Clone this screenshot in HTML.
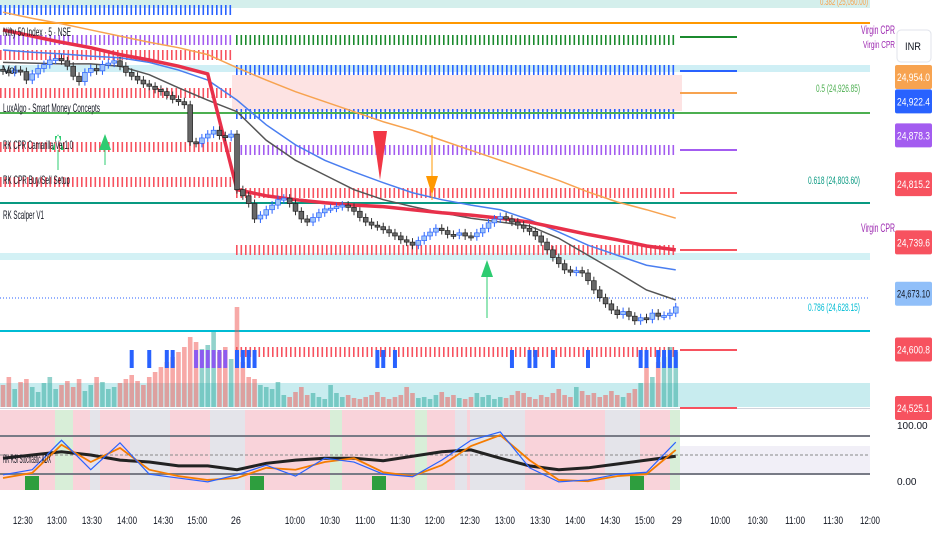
<!DOCTYPE html>
<html><head><meta charset="utf-8"><style>
body{margin:0;background:#fff;overflow:hidden}
svg{display:block;font-family:"Liberation Sans",sans-serif}
</style></head><body>
<svg id="c" width="932" height="550" viewBox="0 0 932 550">
<g id="bg">
<rect x="0" y="0" width="870" height="8" fill="#d4efec"/>
<rect x="0" y="65" width="870" height="7" fill="#cfeff5"/>
<rect x="232" y="75" width="450" height="36" fill="#fde3e3"/>
<rect x="0" y="253" width="870" height="7" fill="#d3f1f5"/>
<rect x="0" y="383" width="870" height="24" fill="#c8ecef"/>
<rect x="0" y="408" width="870" height="1" fill="#d1d4dc"/>
</g>
<g id="levels"></g>
<g id="vol"></g>
<g id="ma"></g>
<g id="cnd"></g>
<g id="osc"></g>
<g id="sig">
<path d="M52 150 L58 134 L64 150Z M55 150h6v-14h-6z" fill="#2ecc71"/><line x1="58" y1="150" x2="58" y2="170" stroke="#2ecc71"/>
<path d="M99 150 L105 134 L111 150Z" fill="#2ecc71"/><line x1="105" y1="150" x2="105" y2="165" stroke="#2ecc71"/>
<path d="M373 131 L387 131 L380 180Z" fill="#f23645"/>
<line x1="432" y1="135" x2="432" y2="200" stroke="#ff9800"/><path d="M426 176 L438 176 L432 195Z" fill="#ff9800"/>
<path d="M481 277 L487 260 L493 277Z" fill="#2ecc71"/><line x1="487" y1="277" x2="487" y2="318" stroke="#2ecc71"/>
</g>
<g id="labels" font-size="12" fill="#131722">
<text x="3" y="36" textLength="68" lengthAdjust="spacingAndGlyphs">Nifty 50 Index · 5 · NSE</text>
<text x="3" y="74" textLength="14" lengthAdjust="spacingAndGlyphs">Vol</text>
<text x="3" y="112" textLength="97" lengthAdjust="spacingAndGlyphs">LuxAlgo - Smart Money Concepts</text>
<text x="3" y="149" textLength="70" lengthAdjust="spacingAndGlyphs">RK CPR Camarilla Ver1.0</text>
<text x="3" y="184" textLength="67" lengthAdjust="spacingAndGlyphs">RK CPR Buy/Sell Setup</text>
<text x="3" y="219" textLength="41" lengthAdjust="spacingAndGlyphs">RK Scalper V1</text>
<text x="3" y="463" textLength="48" lengthAdjust="spacingAndGlyphs">RK RSI Stochastic ADX</text>
<text x="868" y="5" text-anchor="end" fill="#f7a350" font-size="10" textLength="48" lengthAdjust="spacingAndGlyphs">0.382 (25,050.00)</text>
<text x="895" y="34" text-anchor="end" fill="#9c27b0" font-size="12" textLength="34" lengthAdjust="spacingAndGlyphs">Virgin CPR</text>
<text x="895" y="48" text-anchor="end" fill="#9c27b0" font-size="10" textLength="32" lengthAdjust="spacingAndGlyphs">Virgin CPR</text>
<text x="860" y="92" text-anchor="end" fill="#4caf50" font-size="11" textLength="44" lengthAdjust="spacingAndGlyphs">0.5 (24,926.85)</text>
<text x="860" y="184" text-anchor="end" fill="#089981" font-size="11" textLength="52" lengthAdjust="spacingAndGlyphs">0.618 (24,803.60)</text>
<text x="895" y="232" text-anchor="end" fill="#9c27b0" font-size="12" textLength="34" lengthAdjust="spacingAndGlyphs">Virgin CPR</text>
<text x="860" y="311" text-anchor="end" fill="#00bcd4" font-size="11" textLength="52" lengthAdjust="spacingAndGlyphs">0.786 (24,628.15)</text>
</g>
<g id="axis" font-size="11"></g>
<g id="taxis" font-size="11" fill="#131722"></g>
<rect x="897" y="30" width="34" height="32" rx="4" fill="#fff" stroke="#e0e3eb"/>
<text x="905" y="50" font-size="11" fill="#131722" textLength="16" lengthAdjust="spacingAndGlyphs">INR</text>
</svg>
<script>
const NS="http://www.w3.org/2000/svg";
const closes=[24962,24960,24963,24961,24950,24958,24965,24970,24976,24978,24975,24968,24955,24948,24960,24965,24962,24970,24972,24975,24968,24960,24955,24950,24945,24942,24938,24935,24930,24925,24922,24918,24870,24868,24875,24880,24885,24878,24876,24880,
24808,24800,24790,24770,24775,24782,24788,24795,24797,24790,24780,24770,24766,24772,24778,24783,24784,24786,24788,24785,24780,24772,24766,24762,24760,24756,24752,24748,24743,24740,24736,24742,24748,24753,24758,24755,24750,24749,24752,24748,24747,24752,24758,24765,24770,24773,24770,24766,24762,24758,24754,24748,24740,24730,24720,24712,24704,24701,24703,24700,24690,24678,24668,24660,24652,24646,24650,24644,24638,24642,24640,24648,24644,24645,24648,24656];
const maRed=[25015,25007,24999,24992,24983,24976,24968,24958,24808,24800,24795,24791,24788,24786,24782,24778,24775,24771,24766,24758,24750,24743,24735,24730];
const maGray=[24973,24972,24971,24971,24968,24957,24940,24924,24909,24872,24846,24827,24808,24795,24786,24778,24771,24766,24761,24745,24723,24701,24678,24665];
const maBlue=[24989,24986,24984,24981,24979,24973,24963,24950,24924,24892,24866,24846,24831,24817,24804,24795,24788,24782,24769,24753,24736,24723,24710,24704];
const maOrange=[25038,25030,25023,25015,25007,24999,24992,24983,24966,24950,24935,24922,24909,24896,24885,24872,24859,24846,24833,24820,24805,24792,24782,24771];
const volumes=[22,30,18,25,28,20,15,24,30,18,22,26,20,28,16,22,30,25,18,20,24,28,32,26,22,30,35,40,45,50,55,60,70,65,58,62,75,55,60,48,
100,45,30,28,22,20,18,25,12,10,15,20,12,14,10,8,22,14,10,12,9,8,10,12,15,10,8,10,12,20,14,9,10,8,12,15,10,12,9,8,10,14,10,12,8,10,9,12,16,14,10,8,12,10,14,18,12,10,20,16,12,14,10,12,16,12,10,14,18,24,40,30,45,50,60,55];
const markIdx=[22,25,28,29,33,34,35,36,37,38,40,41,42,43,64,65,67,87,90,91,94,100,109,110,112,113,114,115];
const stochK=[19,27,73,27,69,20,14,8,19,34,17,45,39,20,16,42,73,86,30,8,11,20,23,70];
const stochD=[14,22,66,39,61,27,17,11,14,30,27,39,45,23,17,34,64,81,42,11,9,17,20,58];
const rsi=[45,50,55,50,42,39,33,33,27,37,42,45,45,41,48,55,58,45,33,27,30,36,42,48];
const axisPrices=[24954.0,24922.4,24878.3,24815.2,24739.6,24673.1,24600.8,24525.1];
const axisText=["24,954.0","24,922.4","24,878.3","24,815.2","24,739.6","24,673.10","24,600.8","24,525.1"];
const axisColors=["#f7a350","#2962ff","#a35cf0","#f7525f","#f7525f","#90bff9","#f7525f","#f7525f"];
const timeLabels=["12:30","13:00","13:30","14:00","14:30","15:00","26","10:00","10:30","11:00","11:30","12:00","12:30","13:00","13:30","14:00","14:30","15:00","29","10:00","10:30","11:00","11:30","12:00"];
const timeBars=[3.4,9.2,15.2,21.2,27.4,33.2,39.8,49.9,55.9,61.9,67.9,73.8,79.8,85.8,91.8,97.8,103.8,109.7,115.2,122.6,129,135.4,141.9,148.2];

const X=i=>3+5.85*i;
const Y=p=>77+(24954-p)/1.296;
const SY=v=>487-v*0.64;
function el(t,a,p){const e=document.createElementNS(NS,t);for(const k in a)e.setAttribute(k,a[k]);document.getElementById(p).appendChild(e);return e;}

function dotted(y,x1,x2,col){for(let x=x1;x<x2;x+=4.5){el('rect',{x:x,y:y-5,width:1.6,height:10,fill:col},'levels');}}
[[10,0,232,"#2962ff"],[40,0,232,"#a35cf0"],[55,0,232,"#f7525f"],[93,0,232,"#f7525f"],[147,0,232,"#f7525f"],[182,0,232,"#f7525f"],
[40,236,677,"#1b8a2e"],[114,236,677,"#2962ff"],[70,236,677,"#2962ff"],[150,236,677,"#a35cf0"],[193,236,677,"#f7525f"],[250,236,677,"#f7525f"],[352,236,677,"#f7525f"]].forEach(a=>dotted(...a));
[[37,"#1b8a2e"],[71,"#2962ff"],[93,"#f7a350"],[113,"#2962ff"],[150,"#a35cf0"],[193,"#f7525f"],[250,"#f7525f"],[350,"#f7525f"],[408,"#f7525f"]].forEach(a=>el('rect',{x:680,y:a[0]-1,width:57,height:2,fill:a[1]},'levels'));
[[23,"#ff9800",2],[113,"#4caf50",2],[203,"#089981",2],[331,"#00bcd4",2]].forEach(a=>el('rect',{x:0,y:a[0]-1,width:870,height:a[2],fill:a[1]},'levels'));
el('line',{x1:0,y1:298,x2:870,y2:298,stroke:"#2962ff","stroke-dasharray":"1 2"},'levels');

volumes.forEach((v,i)=>{const r=el('rect',{x:X(i)-2.3,y:407-v,width:4.6,height:v,fill:(i>0&&closes[i]>=closes[i-1])?"rgba(38,166,154,0.5)":"rgba(239,83,80,0.5)"},'vol');

});
markIdx.forEach(i=>{const r=el('rect',{x:X(i)-2,y:350,width:4,height:18,fill:(i>=33&&i<=38)?"#8c5cf0":"#2962ff"},'vol');

});

function line(arr,col,w,fn){const pts=arr.map((v,k)=>X(k*5)+","+fn(v)).join(" ");return el('polyline',{points:pts,fill:"none",stroke:col,"stroke-width":w},'ma');}
let m;
m=line(maOrange,"#f7a350",1.5,Y);
m=line(maBlue,"#4a7ef0",1.5,Y);
m=line(maGray,"#555",1.5,Y);
m=line(maRed,"#e8304a",3.5,Y);

closes.forEach((c,i)=>{const o=i?closes[i-1]:c+2;const up=c>=o;const x=X(i);
const yt=Y(Math.max(o,c)),yb=Y(Math.min(o,c));
el('line',{x1:x,y1:yt-4,x2:x,y2:yb+4,stroke:up?"#2962ff":"#333"},'cnd');
const r=el('rect',{x:x-2.4,y:yt,width:4.8,height:Math.max(2,yb-yt),fill:up?"#9ec3f7":"#666",stroke:up?"#2962ff":"#222","stroke-width":0.7},'cnd');

});

el('rect',{x:0,y:410,width:680,height:80,fill:"#f9d3da"},'osc');
[[55,18,"#d8eed8"],[90,10,"#e4e4ea"],[130,40,"#e4e4ea"],[210,35,"#e4e4ea"],[330,12,"#d8eed8"],[415,12,"#d8eed8"],[455,12,"#e4e4ea"],[470,55,"#e4e4ea"],[605,35,"#e4e4ea"],[670,10,"#d8eed8"]].forEach(a=>el('rect',{x:a[0],y:410,width:a[1],height:80,fill:a[2]},'osc'));
el('rect',{x:680,y:446,width:190,height:28,fill:"#f1eff7"},'osc');
el('line',{x1:0,y1:436,x2:870,y2:436,stroke:"#787b86","stroke-width":2},'osc');
el('line',{x1:0,y1:474,x2:870,y2:474,stroke:"#787b86","stroke-width":2},'osc');
el('line',{x1:0,y1:455,x2:870,y2:455,stroke:"#888","stroke-dasharray":"3 2"},'osc');
function oline(arr,col,w,name){const pts=arr.map((v,k)=>X(k*5)+","+SY(v)).join(" ");const p=el('polyline',{points:pts,fill:"none",stroke:col,"stroke-width":w},'osc');

}
oline(rsi,"#222",3,"rsi-line");
oline(stochD,"#f57c00",1.8,"stoch-d-line");
oline(stochK,"#2962ff",1.2,"stoch-k-line");
[[25,"#2e9e3e"],[250,"#2e9e3e"],[372,"#2e9e3e"],[630,"#2e9e3e"]].forEach(a=>el('rect',{x:a[0],y:476,width:14,height:14,fill:a[1]},'osc'));

axisPrices.forEach((p,i)=>{const y=Y(p);const r=el('rect',{x:895,y:y-12,width:37,height:24,rx:2,fill:axisColors[i]},'axis');


const t=el('text',{x:897,y:y+4,fill:i==5?"#131722":"#fff","font-size":11,textLength:33,lengthAdjust:"spacingAndGlyphs"},'axis');t.textContent=axisText[i];});
[["100.00",425],["0.00",481]].forEach(a=>{const t=el('text',{x:897,y:a[1]+4,fill:"#131722","font-size":10},'axis');t.textContent=a[0];});

timeLabels.forEach((s,i)=>{const t=el('text',{x:X(timeBars[i]),y:524,"text-anchor":"middle",textLength:s.length>2?20:10,lengthAdjust:"spacingAndGlyphs"},'taxis');t.textContent=s;

});
</script>
</body></html>
